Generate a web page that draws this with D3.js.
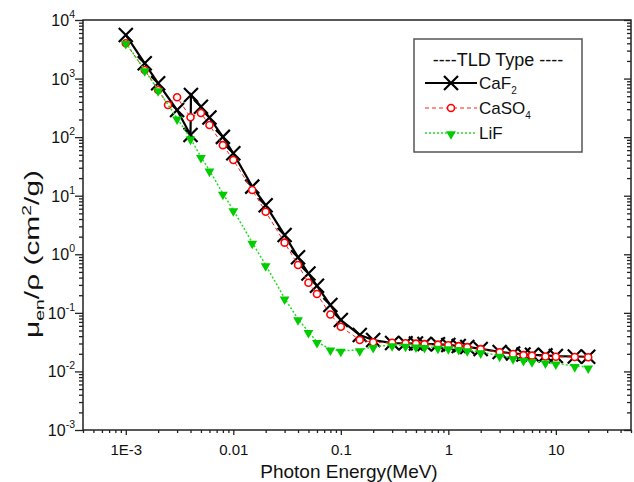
<!DOCTYPE html>
<html><head><meta charset="utf-8">
<script src="https://cdn.jsdelivr.net/npm/d3@7"></script>
<style>
html,body{margin:0;padding:0;background:#fff;}
svg{display:block;font-family:"Liberation Sans",Arial,sans-serif;}
</style></head>
<body>
<svg id="chart" width="634" height="482"></svg>
<script>
// ---- data (energy in MeV, mu_en/rho in cm^2/g) ----
const energyCaF2 = [0.001,0.0015,0.002,0.003,0.004,0.004038,0.005,0.006,0.008,0.01,0.015,0.02,0.03,0.04,0.05,0.06,0.08,0.1,0.15,0.2,0.3,0.4,0.5,0.6,0.8,1,1.25,1.5,2,3,4,5,6,8,10,15,20];
const valuesCaF2 = [5550,1820,830,290,109,525,331,216,101,53,14.3,6.9,2.13,0.89,0.47,0.29,0.136,0.0755,0.042,0.0344,0.0305,0.0302,0.0300,0.0295,0.0290,0.0283,0.0272,0.0262,0.0242,0.0215,0.0203,0.0195,0.0192,0.0188,0.0183,0.0180,0.0178];

const energyCaSO4 = [0.001,0.0015,0.002,0.002472,0.003,0.004,0.005,0.006,0.008,0.01,0.015,0.02,0.03,0.04,0.05,0.06,0.08,0.1,0.15,0.2,0.3,0.4,0.5,0.6,0.8,1,1.25,1.5,2,3,4,5,6,8,10,15,20];
const valuesCaSO4 = [4000,1400,638,354,479,218,258,161,73,40.7,12.5,5.33,1.58,0.656,0.327,0.21,0.0938,0.058,0.0344,0.0314,0.0308,0.0302,0.0298,0.0293,0.0287,0.0280,0.0270,0.0260,0.0240,0.0212,0.0198,0.0190,0.0186,0.0180,0.0178,0.0176,0.0175];

const energyLiF = [0.001,0.0015,0.002,0.003,0.004,0.005,0.006,0.008,0.01,0.015,0.02,0.03,0.04,0.05,0.06,0.08,0.1,0.15,0.2,0.3,0.4,0.5,0.6,0.8,1,1.25,1.5,2,3,4,5,6,8,10,15,20];
const valuesLiF = [4090,1400,638,210,95,46,27,10.9,5.7,1.58,0.656,0.177,0.0785,0.0476,0.0321,0.0239,0.0226,0.0232,0.0264,0.0282,0.0276,0.0268,0.0262,0.0255,0.0250,0.0243,0.0232,0.0213,0.0186,0.0169,0.0158,0.0150,0.0143,0.0138,0.0124,0.0118];

const xTickValues = [0.001,0.01,0.1,1,10];
const xTickLabels = ["1E-3","0.01","0.1","1","10"];
const yTickExponents = [-3,-2,-1,0,1,2,3,4];
const legendTitle = "----TLD Type ----";

// ---- layout ----
const svg = d3.select("#chart");
const L = 83, R = 631, T = 20, B = 430;
const x = d3.scaleLog().domain([4e-4, 50]).range([L, R]);
const y = d3.scaleLog().domain([1e-3, 1e4]).range([B, T]);

function minors(lo, hi) {
  const out = [];
  for (let e = lo; e <= hi; e++) for (let m = 1; m <= 9; m++) out.push(m * Math.pow(10, e));
  return out;
}
const xMinor = minors(-4, 1).filter(v => v >= 4e-4 * 0.999 && v <= 50 * 1.001 && !xTickValues.some(t => Math.abs(t - v) / t < 1e-6));
const yMinor = minors(-3, 3).filter(v => !yTickExponents.some(e => Math.abs(Math.pow(10, e) - v) / v < 1e-6));

// axes ticks
const gx = svg.append("g").attr("transform", `translate(0,${B})`);
gx.call(d3.axisBottom(x).tickValues(xMinor).tickSize(3).tickFormat(""));
gx.call(g => g.select(".domain").remove());
const gx2 = svg.append("g").attr("transform", `translate(0,${B})`);
gx2.call(d3.axisBottom(x).tickValues(xTickValues).tickSize(5).tickPadding(9).tickFormat((d, i) => xTickLabels[i]));
gx2.select(".domain").remove();
gx2.selectAll("text").attr("font-size", 15).attr("fill", "#111").attr("font-family", "Liberation Sans, Arial, sans-serif");

const gy = svg.append("g").attr("transform", `translate(${L},0)`);
gy.call(d3.axisLeft(y).tickValues(yMinor).tickSize(4).tickFormat(""));
gy.select(".domain").remove();
const gy2 = svg.append("g").attr("transform", `translate(${L},0)`);
gy2.call(d3.axisLeft(y).tickValues(yTickExponents.map(e => Math.pow(10, e))).tickSize(8).tickFormat(""));
gy2.select(".domain").remove();

// right axis (inward ticks)
const gr = svg.append("g").attr("transform", `translate(${R},0)`);
gr.call(d3.axisLeft(y).tickValues(yMinor).tickSize(4).tickFormat(""));
gr.select(".domain").remove();
const gr2 = svg.append("g").attr("transform", `translate(${R},0)`);
gr2.call(d3.axisLeft(y).tickValues(yTickExponents.map(e => Math.pow(10, e))).tickSize(7).tickFormat(""));
gr2.select(".domain").remove();

svg.selectAll(".tick line").attr("stroke", "#222").attr("stroke-width", 1.3);

// y tick labels with superscripts
const ylab = svg.append("g");
yTickExponents.forEach(e => {
  const t = ylab.append("text")
    .attr("x", 75).attr("y", y(Math.pow(10, e)) + 6)
    .attr("text-anchor", "end").attr("font-size", 16).attr("fill", "#111");
  t.append("tspan").text("10");
  t.append("tspan").attr("font-size", 10.5).attr("dy", -8).text(e);
});

// frame
svg.append("rect").attr("x", L).attr("y", T).attr("width", R - L).attr("height", B - T)
  .attr("fill", "none").attr("stroke", "#222").attr("stroke-width", 1.5);

// axis titles
svg.append("text").attr("x", 349).attr("y", 478).attr("text-anchor", "middle")
  .attr("font-size", 19).attr("fill", "#111").text("Photon Energy(MeV)");

const ytG = svg.append("g").attr("transform", "translate(39,254) rotate(-90)");
const yt = ytG.append("text").attr("text-anchor", "middle").attr("font-size", 20).attr("fill", "#111");
yt.append("tspan").text("μ");
yt.append("tspan").attr("font-size", 13).attr("dy", 5).text("en");
yt.append("tspan").attr("dy", -5).text("/ρ (cm");
yt.append("tspan").attr("font-size", 13).attr("dy", -8).text("2");
yt.append("tspan").attr("dy", 8).text("/g)");
const ytw = yt.node().getBBox().width;
yt.attr("transform", `scale(${Math.min(1.6, 168 / ytw)},1)`);

// ---- series ----
const plot = svg.append("g");
const line = d3.line().x(d => x(d[0])).y(d => y(d[1]));
const dCaF2 = energyCaF2.map((e, i) => [e, valuesCaF2[i]]);
const dCaSO4 = energyCaSO4.map((e, i) => [e, valuesCaSO4[i]]);
const dLiF = energyLiF.map((e, i) => [e, valuesLiF[i]]);

const green = "#22dd22";
function xMark(g, cx, cy, s) {
  g.append("path").attr("d", `M${cx - s},${cy - s}L${cx + s},${cy + s}M${cx - s},${cy + s}L${cx + s},${cy - s}`)
    .attr("stroke", "#000").attr("stroke-width", 2.2).attr("fill", "none");
}
const triSym = d3.symbol().type(d3.symbolTriangle).size(42);

// CaF2
plot.append("path").datum(dCaF2).attr("d", line).attr("fill", "none").attr("stroke", "#000").attr("stroke-width", 2.2);
dCaF2.forEach(d => xMark(plot, x(d[0]), y(d[1]), 7));
// CaSO4
plot.append("path").datum(dCaSO4).attr("d", line).attr("fill", "none").attr("stroke", "#ff2020").attr("stroke-width", 1).attr("stroke-dasharray", "4,3");
plot.selectAll("circle.caso4").data(dCaSO4).join("circle").attr("class", "caso4")
  .attr("cx", d => x(d[0])).attr("cy", d => y(d[1])).attr("r", 3.5)
  .attr("fill", "#fff").attr("stroke", "#ff0000").attr("stroke-width", 1.6);
// LiF
plot.append("path").datum(dLiF).attr("d", line).attr("fill", "none").attr("stroke", green).attr("stroke-width", 1.5).attr("stroke-dasharray", "2,2");
plot.selectAll("path.lif").data(dLiF).join("path").attr("class", "lif")
  .attr("d", triSym).attr("transform", d => `translate(${x(d[0])},${y(d[1]) + 1}) rotate(180)`)
  .attr("fill", "#00cc00");

// ---- legend ----
const lg = svg.append("g");
lg.append("rect").attr("x", 414).attr("y", 39).attr("width", 168).attr("height", 113)
  .attr("fill", "#fff").attr("stroke", "#555").attr("stroke-width", 1.5);
lg.append("text").attr("x", 498).attr("y", 66).attr("text-anchor", "middle").attr("font-size", 18).attr("fill", "#111").text(legendTitle);
const rows = [
  {name: "CaF", sub: "2", y: 83},
  {name: "CaSO", sub: "4", y: 108},
  {name: "LiF", sub: "", y: 133}
];
// CaF2 row
lg.append("line").attr("x1", 425).attr("x2", 477).attr("y1", rows[0].y).attr("y2", rows[0].y).attr("stroke", "#000").attr("stroke-width", 2.2);
xMark(lg, 451, rows[0].y, 7);
// CaSO4 row
lg.append("line").attr("x1", 425).attr("x2", 477).attr("y1", rows[1].y).attr("y2", rows[1].y).attr("stroke", "#ff2020").attr("stroke-width", 1).attr("stroke-dasharray", "4,3");
lg.append("circle").attr("cx", 451).attr("cy", rows[1].y).attr("r", 3.5).attr("fill", "#fff").attr("stroke", "#ff0000").attr("stroke-width", 1.6);
// LiF row
lg.append("line").attr("x1", 425).attr("x2", 477).attr("y1", rows[2].y).attr("y2", rows[2].y).attr("stroke", green).attr("stroke-width", 1.5).attr("stroke-dasharray", "2,2");
lg.append("path").attr("d", triSym).attr("transform", `translate(451,${rows[2].y + 1}) rotate(180)`).attr("fill", "#00cc00");
rows.forEach(r => {
  const t = lg.append("text").attr("x", 479).attr("y", r.y + 6).attr("font-size", 17).attr("fill", "#111");
  t.append("tspan").text(r.name);
  if (r.sub) t.append("tspan").attr("font-size", 10).attr("dy", 5).text(r.sub);
});
</script>
</body></html>
